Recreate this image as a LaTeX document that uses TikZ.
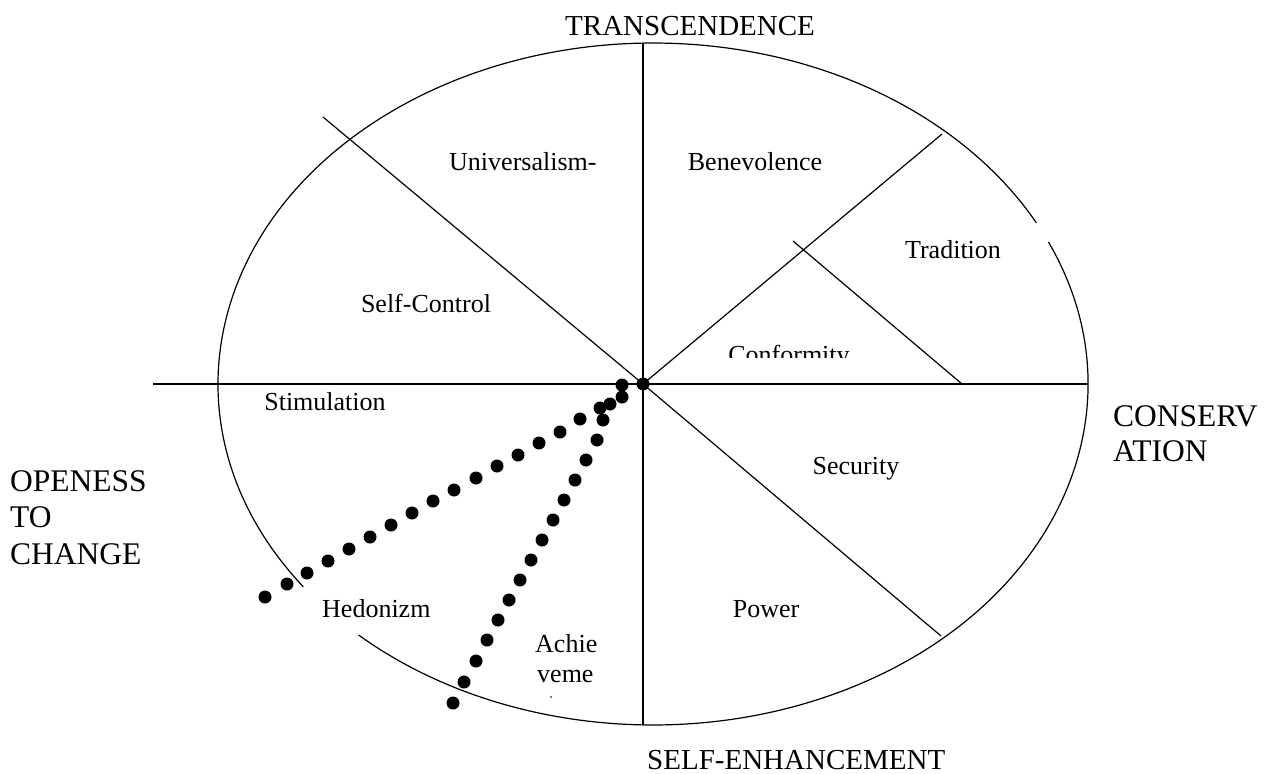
\documentclass[tikz,border=0pt]{standalone}
\usepackage{fontspec}
\setmainfont{Liberation Serif}
\begin{document}
\begin{tikzpicture}[x=1pt,y=-1pt,
  rule/.style={line width=1.2pt, black},
  inlabel/.style={font=\fontsize{26}{30}\selectfont, inner sep=0pt, anchor=base},
  inlabelw/.style={font=\fontsize{26}{30}\selectfont, inner sep=0pt, anchor=base west},
  outlabel/.style={font=\fontsize{31.5}{36}\selectfont, inner sep=0pt, anchor=base west},
  axislabel/.style={font=\fontsize{29}{34}\selectfont, inner sep=0pt, anchor=base west},
  bead/.style={fill=black}]
\useasboundingbox (0,0) rectangle (1265,773);

% centre of the circumplex and ends of the dividing lines
\coordinate (O) at (643,384);
\coordinate (E) at (653,384);
\coordinate (top) at (643,43);
\coordinate (bot) at (643,725);
\coordinate (west) at (153,384);
\coordinate (east) at (1088,384);
\coordinate (nw) at (323,117);
\coordinate (ne) at (942,134);
\coordinate (se) at (941,636);
\coordinate (tradA) at (793,241);
\coordinate (tradB) at (962,384);

% the ellipse, drawn in two arcs with small breaks
\draw[rule] (E) ++(-24.6:435 and 341) arc[start angle=-24.6, end angle=132.6, x radius=435, y radius=341];
\draw[rule] (E) ++(143.5:435 and 341) arc[start angle=143.5, end angle=331.8, x radius=435, y radius=341];

% dividing lines
\draw[rule] (top) -- (bot);
\draw[rule] (west) -- (east);
\draw[rule] (nw) -- (O);
\draw[rule] (O) -- (ne);
\draw[rule] (O) -- (se);
\draw[rule] (tradA) -- (tradB);

% dotted boundaries
\fill[bead] (O) circle[radius=6.5];
\foreach \p in {(265,597),(287,584),(307,573),(328,561),(349,549),(370,537),(391,525),(412,513),(433,501),(454,490),(476,478),(497,466),(518,455),(539,443),(560,432),(580,419),(600,408),(610,404),(622,385)}
  \fill[bead] \p circle[radius=6.5];
\foreach \p in {(453,703),(464,682),(476,661),(487,640),(498,620),(509,600),(520,580),(531,560),(542,540),(553,520),(564,500),(575,480),(586,460),(597,440),(603,420),(622,397)}
  \fill[bead] \p circle[radius=6.5];

% pole labels
\node[axislabel] (trans) at (565,36) {TRANSCENDENCE};
\node[axislabel] (selfe) at (647,769) {SELF-ENHANCEMENT};
\node[outlabel] (cons1) at (1113,426) {CONSERV};
\node[outlabel] (cons2) at (1113,461) {ATION};
\node[outlabel] (open1) at (10,491) {OPENESS};
\node[outlabel] (open2) at (10,527) {TO};
\node[outlabel] (open3) at (10,564) {CHANGE};

% value labels
\node[inlabelw] (univ) at (449,170) {Universalism-};
\node[inlabel] (bene) at (755,170) {Benevolence};
\node[inlabel] (trad) at (953,258) {Tradition};
\node[inlabel] (selfc) at (426,312) {Self-Control};
\begin{scope}
  \clip (700,330) rectangle (880,357);
  \node[inlabel] (conf) at (789,363) {Conformity};
\end{scope}
\node[inlabel] (stim) at (325,410) {Stimulation};
\node[inlabel] (secu) at (856,474) {Security};
\node[inlabelw] (hedo) at (322,617) {Hedonizm};
\node[inlabel] (powe) at (766,617) {Power};
\node[inlabelw] (ach1) at (535,652) {Achie};
\node[inlabelw] (ach2) at (537,682) {veme};
\fill (551,697) circle[radius=0.8];
\end{tikzpicture}
\end{document}
